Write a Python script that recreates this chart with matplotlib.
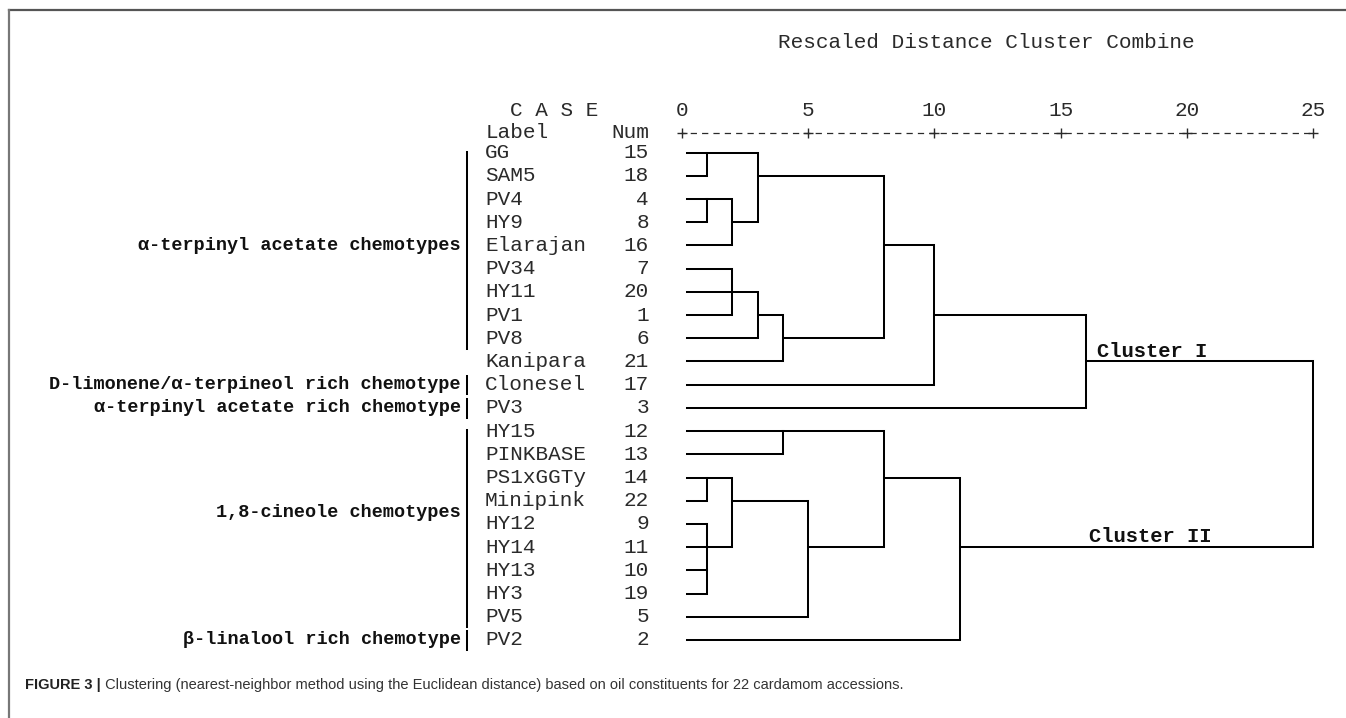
import matplotlib
matplotlib.use("Agg")
import matplotlib.pyplot as plt
from matplotlib.lines import Line2D

# ---------------- data ----------------
labels = ["GG", "SAM5", "PV4", "HY9", "Elarajan", "PV34", "HY11", "PV1", "PV8",
          "Kanipara", "Clonesel", "PV3", "HY15", "PINKBASE", "PS1xGGTy", "Minipink",
          "HY12", "HY14", "HY13", "HY3", "PV5", "PV2"]
nums = [15, 18, 4, 8, 16, 7, 20, 1, 6, 21, 17, 3, 12, 13, 14, 22, 9, 11, 10, 19, 5, 2]

# agglomeration steps: (member a, member b, rescaled distance)
# integers = leaf rows, "cK" = result of step K
merges = [
    (0, 1, 1),          # c0
    (2, 3, 1),          # c1
    ("c1", 4, 2),       # c2
    ("c0", "c2", 3),    # c3
    (5, 6, 2),          # c4
    ("c4", 7, 2),       # c5
    ("c5", 8, 3),       # c6
    ("c6", 9, 4),       # c7
    ("c3", "c7", 8),    # c8
    ("c8", 10, 10),     # c9
    ("c9", 11, 16),     # c10
    (12, 13, 4),        # c11
    (14, 15, 1),        # c12
    (16, 17, 1),        # c13
    (18, 19, 1),        # c14
    ("c13", "c14", 1),  # c15
    ("c12", "c15", 2),  # c16
    ("c16", 20, 5),     # c17
    ("c11", "c17", 8),  # c18
    ("c18", 21, 11),    # c19
    ("c10", "c19", 25), # c20
]

ticks = [0, 5, 10, 15, 20, 25]
tick_labels = ["0", "5", "10", "15", "20", "25"]

chemotypes = ["α-terpinyl acetate chemotypes",
              "D-limonene/α-terpineol rich chemotype",
              "α-terpinyl acetate rich chemotype",
              "1,8-cineole chemotypes",
              "β-linalool rich chemotype"]
chemo_first = [0, 10, 11, 12, 21]
chemo_last = [8, 10, 11, 20, 21]
chemo_label_row = [4, 10, 11, 15.5, 21]

cluster_names = ["Cluster I", "Cluster II"]

title = "Rescaled Distance Cluster Combine"
caption_bold = "FIGURE 3 |"
caption_text = (" Clustering (nearest-neighbor method using the Euclidean distance) "
                "based on oil constituents for 22 cardamom accessions.")

# ---------------- figure ----------------
W, H = 1346, 718
fig = plt.figure(figsize=(W / 100, H / 100), dpi=100)
ax = fig.add_axes([0, 0, 1, 1])
ax.axis("off")

x0_px, unit_px = 682.0, 25.24      # pixel of distance 0, pixels per unit
y0_px, row_px = 152.7, 23.2        # pixel of first row, pixels per row
ax.set_xlim(-x0_px / unit_px, (W - x0_px) / unit_px)
ax.set_ylim((H - y0_px) / row_px, -y0_px / row_px)

MONO = "Liberation Mono"
fs_reg = 15.1
fs_chemo = 13.3
fs_clu = 14.8
lw = 1.45
txt_col = "#2a2a2a"

def px2x(px):
    return (px - x0_px) / unit_px

# leaves
leaf_start = 0.18
nodes = {}
for i in range(len(labels)):
    nodes[i] = (i, leaf_start)

for k, (a, b, d) in enumerate(merges):
    ra, xa = nodes[a]
    rb, xb = nodes[b]
    ax.plot([xa, d], [ra, ra], color="black", lw=lw, solid_capstyle="projecting")
    ax.plot([xb, d], [rb, rb], color="black", lw=lw, solid_capstyle="projecting")
    ax.plot([d, d], [ra, rb], color="black", lw=lw, solid_capstyle="projecting")
    lo, hi = min(ra, rb), max(ra, rb)
    nodes["c%d" % k] = ((lo + hi) // 2, d)

# leaf labels and case numbers
for i, (lab, n) in enumerate(zip(labels, nums)):
    ax.text(px2x(485), i, lab, family=MONO, fontsize=fs_reg, ha="left",
            va="center", color=txt_col)
    ax.text(px2x(649), i, str(n), family=MONO, fontsize=fs_reg, ha="right",
            va="center", color=txt_col)

# chemotype groups
for name, f, l, lr in zip(chemotypes, chemo_first, chemo_last, chemo_label_row):
    if l > f:
        y1, y2 = f - 0.05, l + 0.45
    else:
        y1, y2 = f - 0.38, f + 0.42
    ax.plot([px2x(466.7)] * 2, [y1, y2], color="black", lw=lw)
    ax.text(px2x(461), lr, name, family=MONO, fontsize=fs_chemo,
            fontweight="bold", ha="right", va="center", color="#111111")

# header
ax.text(px2x(778), -4.77, title, family=MONO, fontsize=fs_reg, ha="left",
        va="center", color=txt_col)
ax.text(px2x(510), -1.84, "C A S E", family=MONO, fontsize=fs_reg, ha="left",
        va="center", color=txt_col)
ax.text(px2x(486), -0.85, "Label", family=MONO, fontsize=fs_reg, ha="left",
        va="center", color=txt_col)
ax.text(px2x(649), -0.85, "Num", family=MONO, fontsize=fs_reg, ha="right",
        va="center", color=txt_col)
for t, tl in zip(ticks, tick_labels):
    ax.text(t, -1.84, tl, family=MONO, fontsize=fs_reg, ha="center",
            va="center", color=txt_col)

# ASCII-like scale: dashes + plus marks
period_pt = unit_px * 0.5 * 72 / 100
dash_pt = 5.0
ax.plot([ticks[0], ticks[-1]], [-0.85, -0.85], color=txt_col, lw=0.9,
        linestyle=(period_pt - (unit_px * 0.5 - 3.5) * 0.72, (dash_pt, period_pt - dash_pt)))
ax.plot(ticks, [-0.85] * len(ticks), ls="none", marker="+", ms=7, mew=1.0,
        color=txt_col)

# cluster names
ax.text(px2x(1097), 8.55, cluster_names[0], family=MONO, fontsize=fs_clu,
        fontweight="bold", ha="left", va="center", color="#111111")
ax.text(px2x(1089), 16.56, cluster_names[1], family=MONO, fontsize=fs_clu,
        fontweight="bold", ha="left", va="center", color="#111111")

# frame lines (top and left)
fx = 9 / W
fy = 1 - 10 / H
fig.add_artist(Line2D([fx, 1], [fy, fy], color="#555555", lw=1.6,
                      transform=fig.transFigure))
fig.add_artist(Line2D([fx, fx], [fy, 0], color="#777777", lw=1.6,
                      transform=fig.transFigure))

# caption
cap = fig.text(25 / W, 1 - 685 / H, caption_bold, family="Liberation Sans",
               fontsize=10.5, fontweight="bold", ha="left", va="center",
               color="#222222")
ax.annotate(caption_text, xy=(1, 0.5), xycoords=cap, va="center", ha="left",
            family="Liberation Sans", fontsize=10.5, color="#333333",
            annotation_clip=False)

fig.savefig("out.png", dpi=100)
